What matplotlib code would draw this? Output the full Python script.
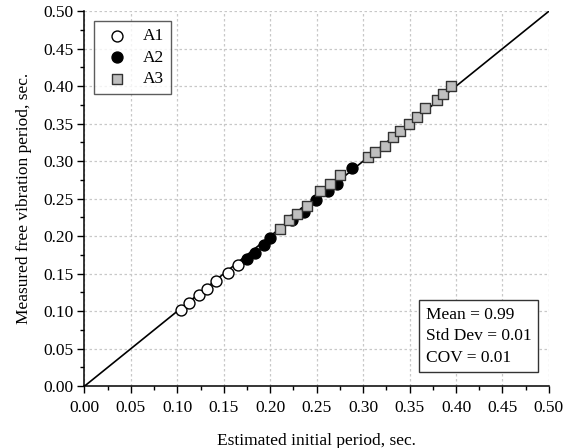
import numpy as np
import matplotlib
matplotlib.use("Agg")
import matplotlib.pyplot as plt
from matplotlib.ticker import MultipleLocator

plt.rcParams["font.family"] = ["Liberation Serif", "DejaVu Serif"]
plt.rcParams["font.size"] = 12.5

# Estimated (x) vs measured (y) periods, seconds
a1_est = [0.104, 0.113, 0.123, 0.132, 0.142, 0.155, 0.165]
a1_meas = [0.102, 0.111, 0.121, 0.130, 0.140, 0.151, 0.161]
a2_est = [0.175, 0.184, 0.193, 0.200, 0.223, 0.236, 0.249, 0.262, 0.272, 0.288]
a2_meas = [0.169, 0.178, 0.188, 0.198, 0.222, 0.232, 0.248, 0.260, 0.270, 0.291]
a3_est = [0.211, 0.220, 0.229, 0.240, 0.254, 0.264, 0.275,
          0.305, 0.313, 0.323, 0.332, 0.340, 0.349, 0.358, 0.367, 0.379, 0.386, 0.395]
a3_meas = [0.210, 0.221, 0.229, 0.240, 0.260, 0.270, 0.281,
           0.306, 0.312, 0.320, 0.332, 0.340, 0.349, 0.359, 0.371, 0.381, 0.389, 0.400]

stats_text = "Mean = 0.99\nStd Dev = 0.01\nCOV = 0.01"

fig = plt.figure(figsize=(5.63, 4.48), dpi=100)
ax = fig.add_axes([0.150, 0.138, 0.825, 0.837])

# 1:1 line
ax.plot([0, 0.5], [0, 0.5], color="black", lw=1.2, zorder=2)

ax.scatter(a1_est, a1_meas, s=62, facecolor="white", edgecolor="black",
           linewidth=1.0, marker="o", label="A1", zorder=3)
ax.scatter(a2_est, a2_meas, s=62, facecolor="black", edgecolor="black",
           linewidth=1.0, marker="o", label="A2", zorder=3)
ax.scatter(a3_est, a3_meas, s=52, facecolor="#bfbfbf", edgecolor="#333333",
           linewidth=1.0, marker="s", label="A3", zorder=4)

ax.set_xlim(0, 0.5)
ax.set_ylim(0, 0.5)
ax.xaxis.set_major_locator(MultipleLocator(0.05))
ax.yaxis.set_major_locator(MultipleLocator(0.05))
ax.xaxis.set_minor_locator(MultipleLocator(0.025))
ax.yaxis.set_minor_locator(MultipleLocator(0.025))
ax.xaxis.set_major_formatter(plt.FormatStrFormatter("%.2f"))
ax.yaxis.set_major_formatter(plt.FormatStrFormatter("%.2f"))
ax.tick_params(which="major", direction="out", length=5, width=1, labelsize=12.5)
ax.tick_params(which="minor", direction="out", length=3, width=1)
ax.tick_params(axis="x", pad=5)
ax.tick_params(axis="y", pad=3)

ax.grid(True, which="major", color="#c8c8c8", linestyle=(0, (2, 2)), lw=0.9)
ax.set_axisbelow(True)
ax.spines["top"].set_visible(False)
ax.spines["right"].set_visible(False)
ax.spines["left"].set_linewidth(1.1)
ax.spines["bottom"].set_linewidth(1.1)

ax.set_xlabel("Estimated initial period, sec.", fontsize=12.5, labelpad=12)
ax.set_ylabel("Measured free vibration period, sec.", fontsize=12.5, labelpad=8)

leg = ax.legend(loc="upper left", bbox_to_anchor=(0.021, 0.973), fontsize=12.5,
                frameon=True, fancybox=False, edgecolor="#333333",
                borderpad=0.4, labelspacing=0.3, handletextpad=0.6,
                handlelength=1.8, borderaxespad=0)
leg.get_frame().set_linewidth(1.0)

ax.text(0.735, 0.055, stats_text, transform=ax.transAxes, fontsize=12.5,
        ha="left", va="bottom", linespacing=1.45,
        bbox=dict(boxstyle="square,pad=0.4", facecolor="white",
                  edgecolor="#333333", linewidth=1.0))

fig.savefig("out.png", dpi=100)
